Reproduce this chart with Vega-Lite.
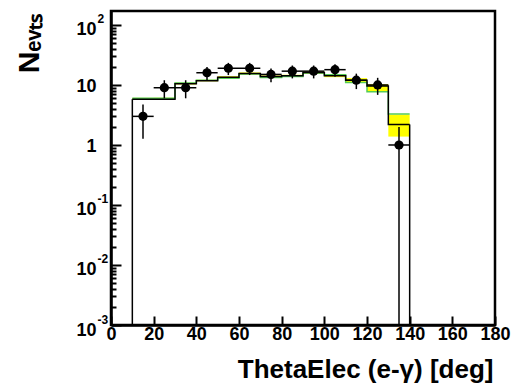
{
  "$schema": "https://vega.github.io/schema/vega-lite/v6.json",
  "width": 384,
  "height": 314,
  "autosize": {"type": "none"},
  "padding": {"left": 111, "top": 11, "right": 18, "bottom": 63},
  "background": "white",
  "config": {
    "view": {"stroke": "black", "strokeWidth": 2.5},
    "font": "Liberation Sans"
  },
  "resolve": {"axis": {"y": "independent"}},
  "datasets": {
    "mc": [
      {"lo": 10, "hi": 20, "mc": 5.8, "green": 6.0, "blo": 5.7, "bhi": 6.1},
      {"lo": 20, "hi": 30, "mc": 5.8, "green": 6.0, "blo": 5.7, "bhi": 6.1},
      {"lo": 30, "hi": 40, "mc": 10.5, "green": 10.8, "blo": 10.2, "bhi": 10.9},
      {"lo": 40, "hi": 50, "mc": 11.8, "green": 12.0, "blo": 11.5, "bhi": 12.2},
      {"lo": 50, "hi": 60, "mc": 13.5, "green": 13.0, "blo": 13.0, "bhi": 14.0},
      {"lo": 60, "hi": 70, "mc": 15.5, "green": 15.2, "blo": 15.0, "bhi": 16.2},
      {"lo": 70, "hi": 80, "mc": 13.8, "green": 13.3, "blo": 13.3, "bhi": 14.4},
      {"lo": 80, "hi": 90, "mc": 14.2, "green": 13.8, "blo": 13.7, "bhi": 14.8},
      {"lo": 90, "hi": 100, "mc": 16.2, "green": 15.8, "blo": 15.5, "bhi": 16.8},
      {"lo": 100, "hi": 110, "mc": 14.3, "green": 14.8, "blo": 13.5, "bhi": 15.2},
      {"lo": 110, "hi": 120, "mc": 12.0, "green": 11.0, "blo": 11.0, "bhi": 13.0},
      {"lo": 120, "hi": 130, "mc": 9.6, "green": 7.7, "blo": 7.7, "bhi": 10.3},
      {"lo": 130, "hi": 140, "mc": 2.2, "green": 3.3, "blo": 1.38, "bhi": 3.2}
    ],
    "pts": [
      {"x": 15, "xlo": 10, "xhi": 20, "n": 3, "elo": 1.27, "ehi": 4.73},
      {"x": 25, "xlo": 20, "xhi": 30, "n": 9, "elo": 6, "ehi": 12},
      {"x": 35, "xlo": 30, "xhi": 40, "n": 9, "elo": 6, "ehi": 12},
      {"x": 45, "xlo": 40, "xhi": 50, "n": 16, "elo": 12, "ehi": 20},
      {"x": 55, "xlo": 50, "xhi": 60, "n": 19, "elo": 14.64, "ehi": 23.36},
      {"x": 65, "xlo": 60, "xhi": 70, "n": 19, "elo": 14.64, "ehi": 23.36},
      {"x": 75, "xlo": 70, "xhi": 80, "n": 15, "elo": 11.13, "ehi": 18.87},
      {"x": 85, "xlo": 80, "xhi": 90, "n": 17, "elo": 12.88, "ehi": 21.12},
      {"x": 95, "xlo": 90, "xhi": 100, "n": 17, "elo": 12.88, "ehi": 21.12},
      {"x": 105, "xlo": 100, "xhi": 110, "n": 18, "elo": 13.76, "ehi": 22.24},
      {"x": 115, "xlo": 110, "xhi": 120, "n": 12, "elo": 8.54, "ehi": 15.46},
      {"x": 125, "xlo": 120, "xhi": 130, "n": 10, "elo": 6.84, "ehi": 13.16},
      {"x": 135, "xlo": 130, "xhi": 140, "n": 1, "elo": 0.001, "ehi": 2}
    ]
  },
  "layer": [
    {
      "data": {"name": "mc"},
      "mark": {"type": "rect", "color": "#ffff00"},
      "encoding": {
        "x": {
          "field": "lo", "type": "quantitative",
          "scale": {"domain": [0, 180], "nice": false, "zero": false},
          "axis": {
            "values": [0,5,10,15,20,25,30,35,40,45,50,55,60,65,70,75,80,85,90,95,100,105,110,115,120,125,130,135,140,145,150,155,160,165,170,175,180],
            "labelExpr": "datum.value % 20 == 0 ? datum.label : ''",
            "tickSize": {"condition": {"test": "datum.value % 20 == 0", "value": -9}, "value": -5},
            "tickWidth": 2,
            "tickColor": "black",
            "domainColor": "black",
            "domainWidth": 2.5,
            "grid": false,
            "labelFont": "Liberation Sans",
            "labelFontWeight": "bold",
            "labelFontSize": 18,
            "labelColor": "black",
            "labelPadding": 9,
            "labelFlush": false,
            "labelOverlap": false,
            "title": "ThetaElec (e-γ) [deg]",
            "titleFont": "Liberation Sans",
            "titleFontWeight": "bold",
            "titleFontSize": 26,
            "titleColor": "black",
            "titleX": 382,
            "titleY": 52,
            "titleAlign": "right",
            "titleBaseline": "alphabetic"
          }
        },
        "x2": {"field": "hi"},
        "y": {
          "field": "blo", "type": "quantitative",
          "scale": {"type": "log", "domain": [0.001, 171], "nice": false},
          "axis": {
            "orient": "left",
            "values": [0.001,0.002,0.003,0.004,0.005,0.006,0.007,0.008,0.009,0.01,0.02,0.03,0.04,0.05,0.06,0.07,0.08,0.09,0.1,0.2,0.3,0.4,0.5,0.6,0.7,0.8,0.9,1,2,3,4,5,6,7,8,9,10,20,30,40,50,60,70,80,90,100],
            "labelExpr": "datum.value == 1 ? '1' : indexof([0.001,0.01,0.1,10,100], datum.value) >= 0 ? '10' : ''",
            "labelOffset": {"condition": {"test": "indexof([0.001,0.01,0.1,100], datum.value) >= 0", "value": 5}, "value": 2},
            "tickSize": {"condition": {"test": "indexof([0.001,0.01,0.1,1,10,100], datum.value) >= 0", "value": -10}, "value": -5},
            "tickWidth": 2,
            "tickColor": "black",
            "domainColor": "black",
            "domainWidth": 2.5,
            "grid": false,
            "labelFont": "Liberation Sans",
            "labelFontWeight": "bold",
            "labelFontSize": 18,
            "labelColor": "black",
            "labelPadding": 25,
            "labelFlush": false,
            "labelOverlap": false,
            "title": "Nₑᵥₜₛ",
            "titleFont": "Liberation Sans",
            "titleFontWeight": "bold",
            "titleFontSize": 30,
            "titleColor": "black",
            "titleAngle": -90,
            "titleX": -73,
            "titleY": 2,
            "titleAlign": "right",
            "titleBaseline": "alphabetic"
          }
        },
        "y2": {"field": "bhi"}
      }
    },
    {
      "data": {"name": "mc"},
      "transform": [{"fold": ["lo", "hi"], "as": ["side", "edge"]}],
      "mark": {"type": "line", "color": "#55cc55", "strokeWidth": 1.5},
      "encoding": {
        "x": {"field": "edge", "type": "quantitative"},
        "y": {
          "field": "green", "type": "quantitative",
          "axis": {
            "orient": "left",
            "values": [0.001, 0.01, 0.1, 100],
            "labelExpr": "datum.value == 100 ? '2' : datum.value == 0.1 ? '-1' : datum.value == 0.01 ? '-2' : '-3'",
            "labelAlign": "left",
            "labelOffset": -6,
            "labelPadding": 14,
            "tickSize": 0,
            "tickOpacity": 0,
            "domain": false,
            "grid": false,
            "labelFont": "Liberation Sans",
            "labelFontWeight": "bold",
            "labelFontSize": 12,
            "labelColor": "black",
            "labelFlush": false,
            "labelOverlap": false,
            "title": null
          }
        },
        "order": [{"field": "lo"}, {"field": "edge"}]
      }
    },
    {
      "data": {"name": "mc"},
      "transform": [{"fold": ["lo", "hi"], "as": ["side", "edge"]}],
      "mark": {"type": "line", "color": "black", "strokeWidth": 1.5},
      "encoding": {
        "x": {"field": "edge", "type": "quantitative"},
        "y": {"field": "mc", "type": "quantitative", "axis": null},
        "order": [{"field": "lo"}, {"field": "edge"}]
      }
    },
    {
      "data": {"name": "mc"},
      "transform": [{"filter": "datum.lo == 10"}],
      "mark": {"type": "rule", "color": "black", "strokeWidth": 1.5},
      "encoding": {
        "x": {"field": "lo", "type": "quantitative"},
        "y": {"field": "mc", "type": "quantitative", "axis": null},
        "y2": {"datum": 0.001}
      }
    },
    {
      "data": {"name": "mc"},
      "transform": [{"filter": "datum.hi == 140"}],
      "mark": {"type": "rule", "color": "black", "strokeWidth": 1.5},
      "encoding": {
        "x": {"field": "hi", "type": "quantitative"},
        "y": {"field": "mc", "type": "quantitative", "axis": null},
        "y2": {"datum": 0.001}
      }
    },
    {
      "data": {"name": "pts"},
      "mark": {"type": "rule", "color": "black", "strokeWidth": 1.5},
      "encoding": {
        "x": {"field": "x", "type": "quantitative"},
        "y": {"field": "elo", "type": "quantitative", "axis": null},
        "y2": {"field": "ehi"}
      }
    },
    {
      "data": {"name": "pts"},
      "mark": {"type": "rule", "color": "black", "strokeWidth": 1.5},
      "encoding": {
        "x": {"field": "xlo", "type": "quantitative"},
        "x2": {"field": "xhi"},
        "y": {"field": "n", "type": "quantitative", "axis": null}
      }
    },
    {
      "data": {"name": "pts"},
      "mark": {"type": "point", "filled": true, "color": "black", "opacity": 1, "size": 85},
      "encoding": {
        "x": {"field": "x", "type": "quantitative"},
        "y": {"field": "n", "type": "quantitative", "axis": null}
      }
    }
  ]
}
